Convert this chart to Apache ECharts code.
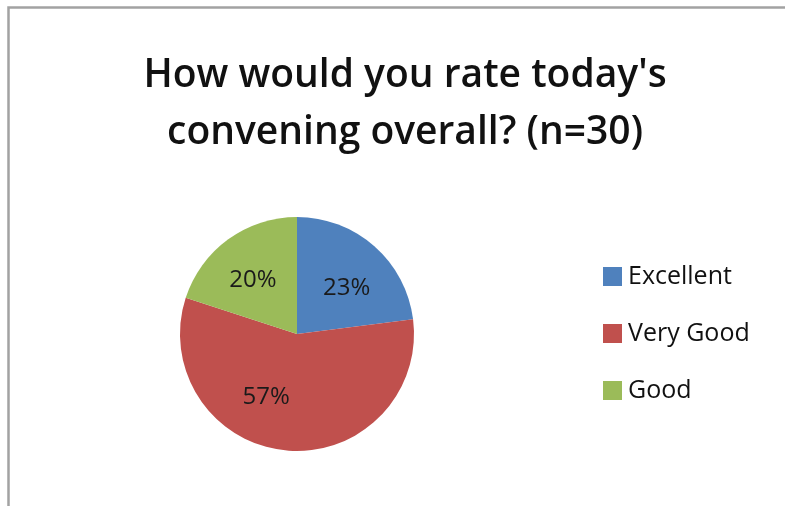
<!DOCTYPE html>
<html>
<head>
<meta charset="utf-8">
<script src="https://cdn.jsdelivr.net/npm/echarts@6/dist/echarts.min.js"></script>
<style>
  html, body { margin: 0; padding: 0; background: #fff; }
  #chart { width: 785px; height: 506px; }
</style>
</head>
<body>
<div id="chart"></div>
<script>
// Survey results: overall rating of the convening (n=30)
const categories = ['Excellent', 'Very Good', 'Good'];
const percentages = [23, 57, 20];
const sliceColors = ['#4F81BD', '#C0504D', '#9BBB59'];

// Small label nudges so each percentage sits comfortably inside its slice
const labelNudges = [[9, 0], [-25, 2], [-8, -4]];

const chart = echarts.init(document.getElementById('chart'), null, { renderer: 'canvas' });

const fontFamily = '"Open Sans", Lato, "DejaVu Sans", sans-serif';

chart.setOption({
  animation: false,
  backgroundColor: '#ffffff',
  graphic: [{
    type: 'rect',
    shape: { x: 8.5, y: 7.5, width: 900, height: 700 },
    style: { fill: 'none', stroke: '#a2a2a2', lineWidth: 2.5 },
    silent: true
  }],
  title: {
    text: "How would you rate today's\nconvening overall? (n=30)",
    left: 405,
    top: 47,
    padding: 0,
    textAlign: 'center',
    textStyle: {
      fontFamily: fontFamily,
      fontSize: 39,
      fontWeight: 600,
      color: '#111',
      lineHeight: 57
    }
  },
  legend: {
    orient: 'vertical',
    left: 603,
    top: 264,
    padding: 0,
    icon: 'rect',
    itemWidth: 19,
    itemHeight: 19,
    itemGap: 32,
    data: categories,
    textStyle: {
      fontFamily: fontFamily,
      fontSize: 25,
      color: '#111',
      padding: [0, 0, 0, 1]
    }
  },
  series: [{
    type: 'pie',
    center: [297, 334],
    radius: 117,
    startAngle: 90,
    clockwise: true,
    color: sliceColors,
    label: {
      show: true,
      position: 'inner',
      formatter: '{c}%',
      fontFamily: fontFamily,
      fontSize: 24,
      color: '#1a1a1a'
    },
    labelLine: { show: false },
    emphasis: { disabled: true },
    data: categories.map((name, i) => ({
      name: name,
      value: percentages[i],
      label: { offset: labelNudges[i] }
    }))
  }]
});
</script>
</body>
</html>
